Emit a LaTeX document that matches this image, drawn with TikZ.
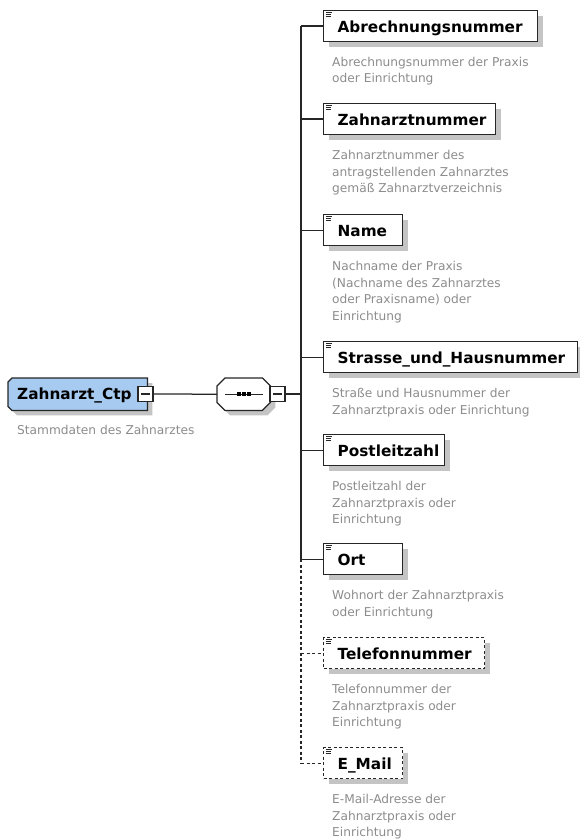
\documentclass[tikz,border=0pt]{standalone}
\usepackage{fontspec}
\setmainfont{DejaVu Sans}
\usetikzlibrary{calc,shadows,backgrounds}
\definecolor{rootblue}{HTML}{A6CAF0}
\definecolor{shadowgray}{HTML}{C4C4C4}
\definecolor{descgray}{HTML}{8C8C8C}
\tikzset{
  titlefont/.style={font={\fontsize{15.3}{18}\selectfont\bfseries}},
  conn/.style={draw=black!85, line width=1.25pt},
  optconn/.style={conn, dash pattern=on 3pt off 2.5pt},
  elbox/.style={draw=black!85, line width=1.25pt, fill=white, anchor=north west,
    inner xsep=14pt, inner ysep=0pt, text height=22pt, text depth=9pt,
    align=left, titlefont,
    drop shadow={shadow xshift=5pt, shadow yshift=-5pt, fill=shadowgray, opacity=1}},
  optbox/.style={elbox, dash pattern=on 3pt off 2.5pt},
  rootnode/.style={anchor=north west, inner xsep=9pt, inner ysep=0pt,
    text width=121pt, text height=21pt, text depth=11pt, align=left, titlefont},
  seqnode/.style={anchor=north west, inner sep=0pt, minimum width=53pt, minimum height=32pt},
  minusbox/.style={draw=black!85, line width=1.25pt, fill=white, minimum size=15pt, inner sep=0pt},
  desc/.style={anchor=north west, inner sep=0pt, align=left,
    font={\fontsize{12.2}{16.5}\selectfont}, text=descgray},
  iconline/.style={draw=black!85, line width=0.9pt}
}
\newcommand\ElIcon[1]{%
  \draw[iconline] ($(#1.north west)+(2.8,2.8)$) -- ++(6.5,0);
  \draw[iconline] ($(#1.north west)+(2.8,4.8)$) -- ++(5.5,0);
  \draw[iconline] ($(#1.north west)+(2.8,6.8)$) -- ++(5.5,0);}
\newcommand\MinusIn[1]{%
  \draw[conn] ($(#1.center)+(-4.5,0)$) -- ($(#1.center)+(4.5,0)$);}
\begin{document}
\begin{tikzpicture}[x=1pt,y=-1pt]
\useasboundingbox (0,0) rectangle (579,840);

% root element
\node[rootnode] (root) at (8,378) {Zahnarzt\_Ctp};
\node[seqnode] (seq) at (217,378) {};
\begin{scope}[on background layer]
  \fill[shadowgray] ($(root.north west)+(9,5)$) -- ($(root.north east)+(5,5)$)
    -- ($(root.south east)+(5,5)$) -- ($(root.south west)+(9,5)$)
    -- ($(root.south west)+(5,1)$) -- ($(root.north west)+(5,9)$) -- cycle;
  \filldraw[fill=rootblue, draw=black!85, line width=1.25pt]
    ($(root.north west)+(4,0)$) -- (root.north east) -- (root.south east)
    -- ($(root.south west)+(4,0)$) -- ($(root.south west)+(0,-4)$)
    -- ($(root.north west)+(0,4)$) -- cycle;
  \fill[shadowgray] ($(seq.north west)+(13,5)$) -- ($(seq.north east)+(-3,5)$)
    -- ($(seq.north east)+(5,13)$) -- ($(seq.south east)+(5,-3)$)
    -- ($(seq.south east)+(-3,5)$) -- ($(seq.south west)+(13,5)$)
    -- ($(seq.south west)+(5,-3)$) -- ($(seq.north west)+(5,13)$) -- cycle;
  \filldraw[fill=white, draw=black!85, line width=1.25pt]
    ($(seq.north west)+(8,0)$) -- ($(seq.north east)+(-8,0)$)
    -- ($(seq.north east)+(0,8)$) -- ($(seq.south east)+(0,-8)$)
    -- ($(seq.south east)+(-8,0)$) -- ($(seq.south west)+(8,0)$)
    -- ($(seq.south west)+(0,-8)$) -- ($(seq.north west)+(0,8)$) -- cycle;
\end{scope}
\node[desc] (d0) at ($(root.south west)+(9,12.5)$) {\strut Stammdaten des Zahnarztes};

\node[minusbox] (rminus) at (145.5,394) {};
\MinusIn{rminus}
\node[minusbox] (sminus) at (277.5,394) {};
\MinusIn{sminus}
\coordinate (spine) at (301,394);

% sequence icon
\draw[conn] ($(seq.center)+(-18.5,0)$) -- ($(seq.center)+(19,0)$);
\fill[black] ($(seq.center)+(-6.3,-2.1)$) rectangle ++(3.6,4.2);
\fill[black] ($(seq.center)+(-1.5,-2.1)$) rectangle ++(3.6,4.2);
\fill[black] ($(seq.center)+(3.3,-2.1)$) rectangle ++(3.6,4.2);

\draw[conn] (rminus.east) -- (seq.west);
\draw[conn] (sminus.east) -- (spine);

% child elements
\node[elbox, text width=186pt] (b1) at (323,10) {Abrechnungsnummer};
\node[elbox, text width=144pt] (b2) at (323,103) {Zahnarztnummer};
\node[elbox, text width=51pt] (b3) at (323,214) {Name};
\node[elbox, text width=226pt] (b4) at (323,341) {Strasse\_und\_Hausnummer};
\node[elbox, text width=93pt] (b5) at (323,434) {Postleitzahl};
\node[elbox, text width=51pt] (b6) at (323,543) {Ort};
\node[optbox, text width=133pt] (b7) at (323,637) {Telefonnummer};
\node[optbox, text width=51pt] (b8) at (323,747) {E\_Mail};
\foreach \b in {b1,b2,b3,b4,b5,b6,b7,b8} {\ElIcon{\b}}

\node[desc] (d1) at ($(b1.south west)+(9,12.5)$) {\strut Abrechnungsnummer der Praxis\\oder Einrichtung};
\node[desc] (d2) at ($(b2.south west)+(9,12.5)$) {\strut Zahnarztnummer des\\antragstellenden Zahnarztes\\gemäß Zahnarztverzeichnis};
\node[desc] (d3) at ($(b3.south west)+(9,12.5)$) {\strut Nachname der Praxis\\(Nachname des Zahnarztes\\oder Praxisname) oder\\Einrichtung};
\node[desc] (d4) at ($(b4.south west)+(9,12.5)$) {\strut Straße und Hausnummer der\\Zahnarztpraxis oder Einrichtung};
\node[desc] (d5) at ($(b5.south west)+(9,12.5)$) {\strut Postleitzahl der\\Zahnarztpraxis oder\\Einrichtung};
\node[desc] (d6) at ($(b6.south west)+(9,12.5)$) {\strut Wohnort der Zahnarztpraxis\\oder Einrichtung};
\node[desc] (d7) at ($(b7.south west)+(9,12.5)$) {\strut Telefonnummer der\\Zahnarztpraxis oder\\Einrichtung};
\node[desc] (d8) at ($(b8.south west)+(9,12.5)$) {\strut E-Mail-Adresse der\\Zahnarztpraxis oder\\Einrichtung};

% connectors
\draw[conn] (b1.west -| spine) -- (b6.west -| spine);
\draw[optconn] (b6.west -| spine) -- (b8.west -| spine);
\foreach \b in {b1,b2,b3,b4,b5,b6} {\draw[conn] (\b.west -| spine) -- (\b.west);}
\foreach \b in {b7,b8} {\draw[optconn] (\b.west -| spine) -- (\b.west);}
\end{tikzpicture}
\end{document}
